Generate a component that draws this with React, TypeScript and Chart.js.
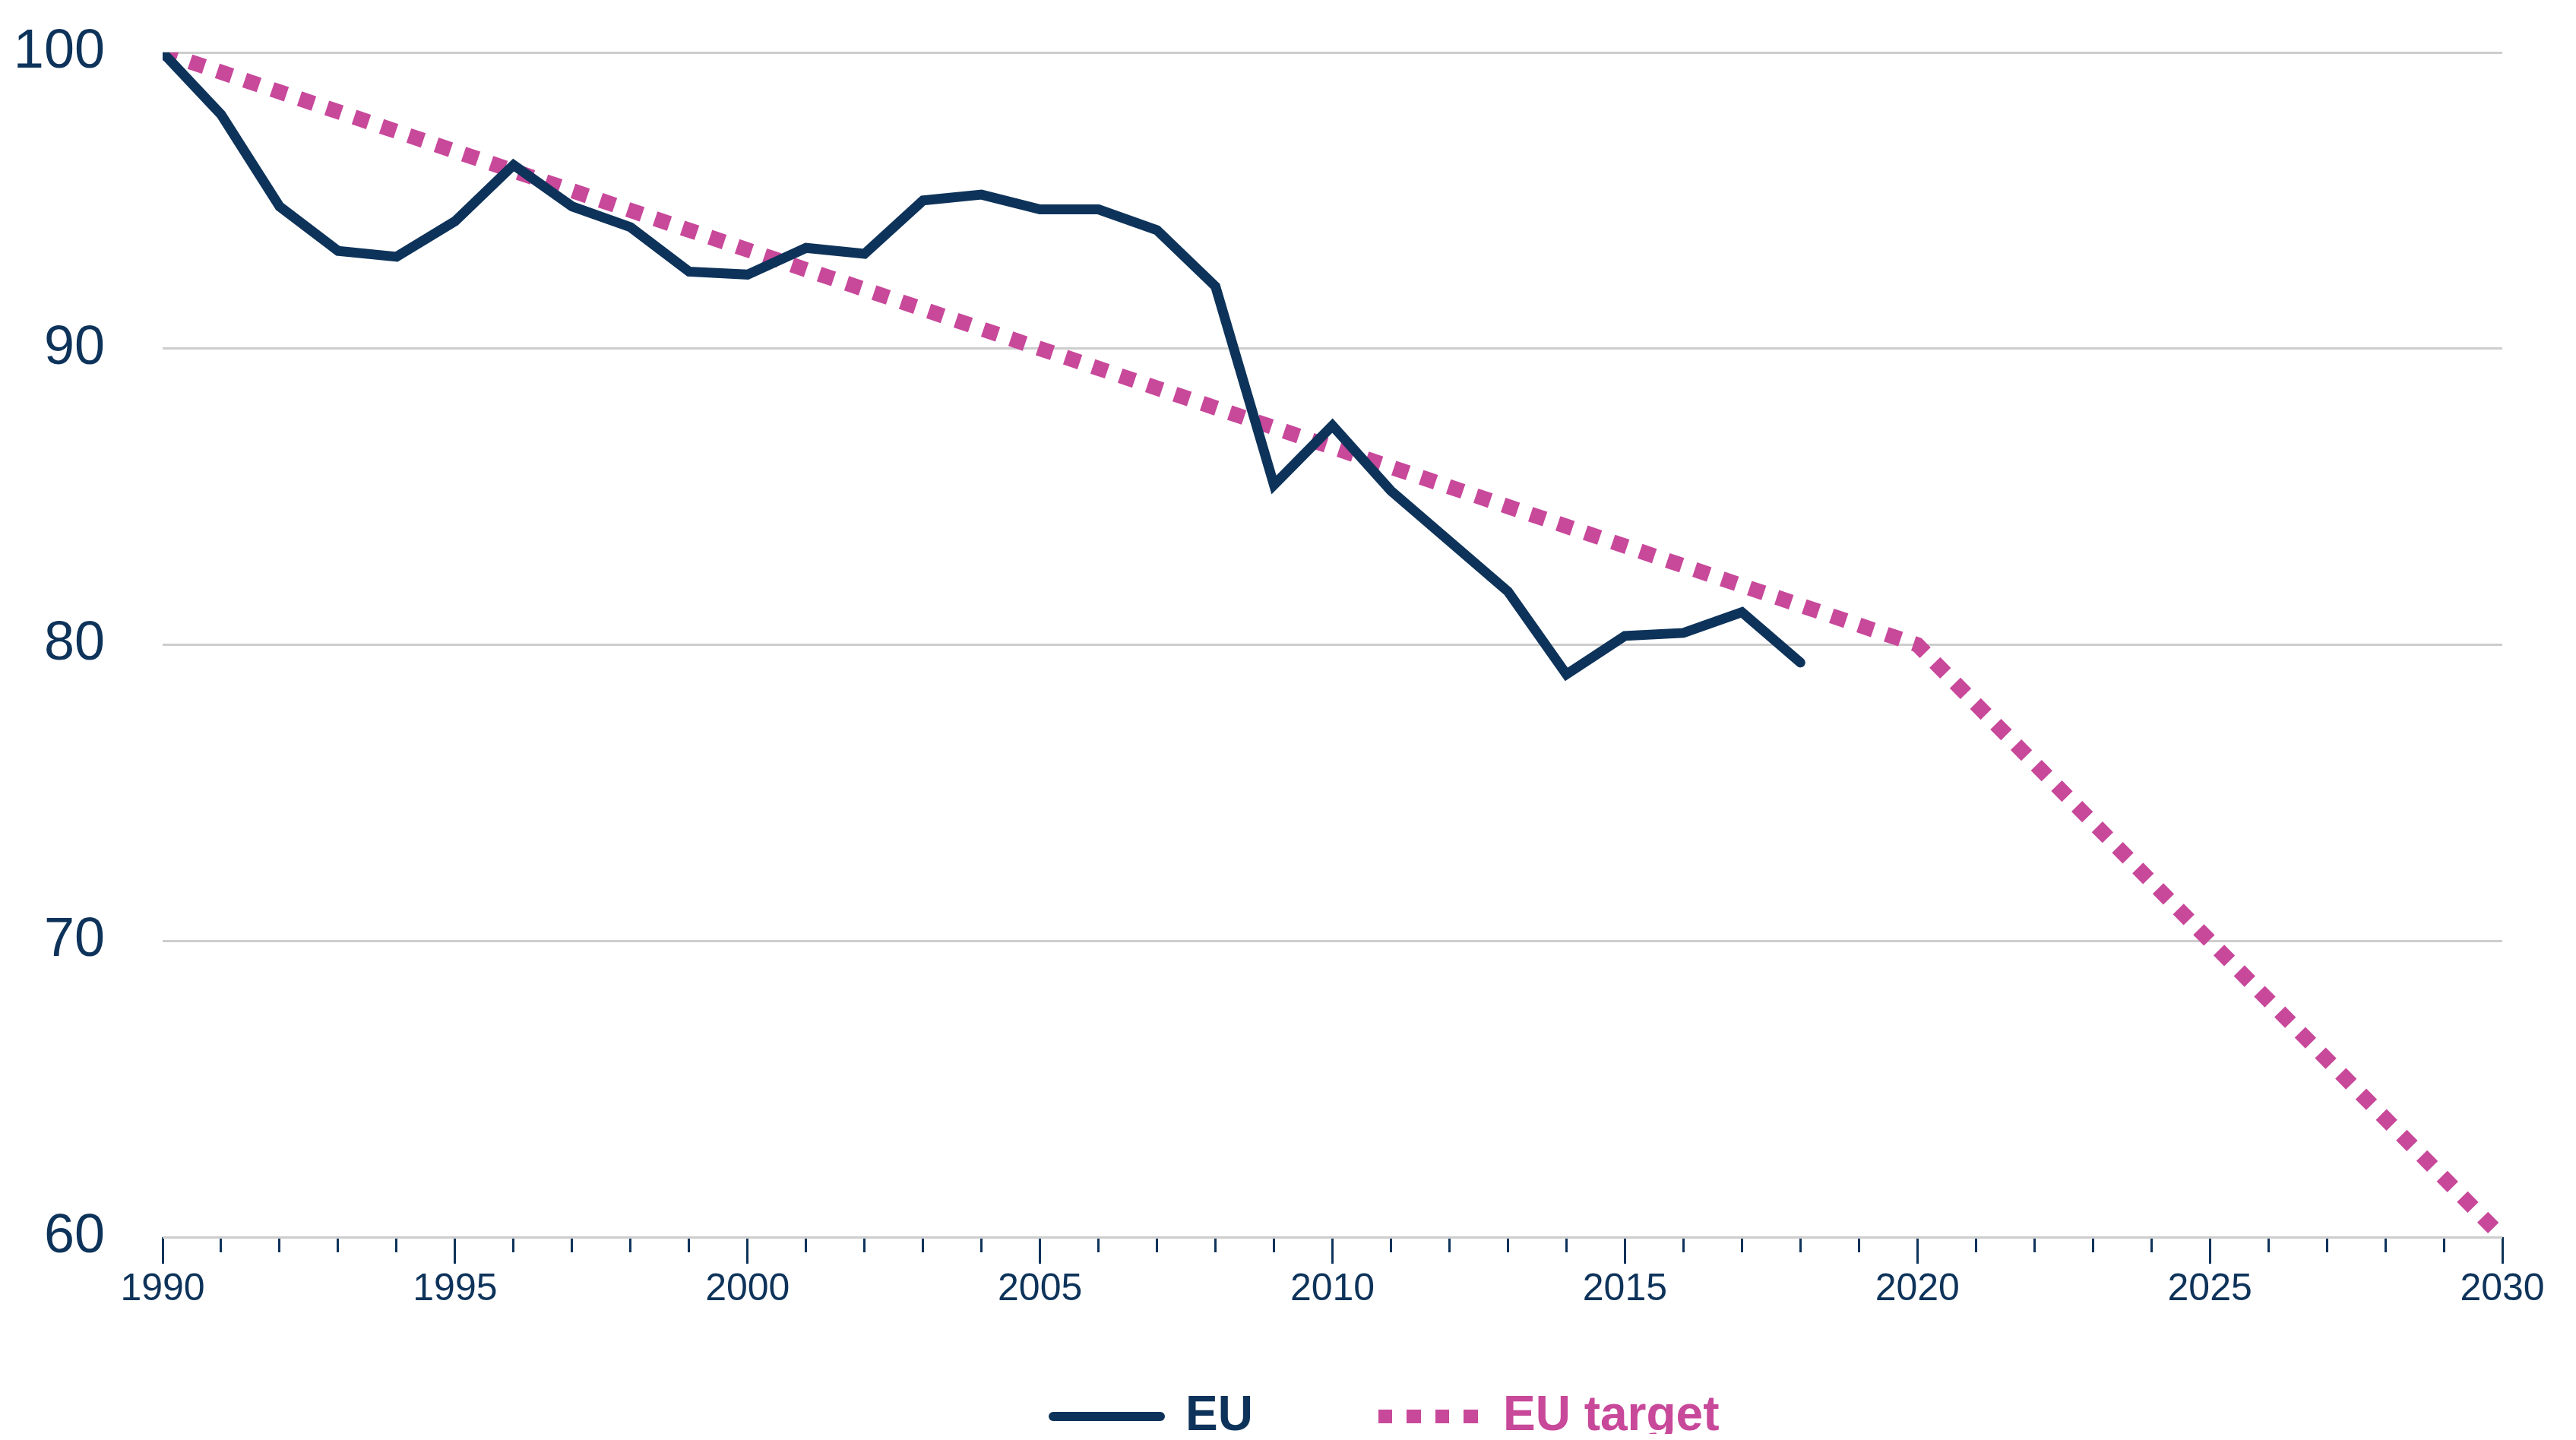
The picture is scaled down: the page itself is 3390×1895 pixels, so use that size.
import React, { useEffect, useRef } from "react";
import { Chart, registerables } from "chart.js";

Chart.register(...registerables);

// ---- data ----
const euYears = [
  1990, 1991, 1992, 1993, 1994, 1995, 1996, 1997, 1998, 1999,
  2000, 2001, 2002, 2003, 2004, 2005, 2006, 2007, 2008, 2009,
  2010, 2011, 2012, 2013, 2014, 2015, 2016, 2017, 2018,
];
const euValues = [
  100, 97.9, 94.8, 93.3, 93.1, 94.3, 96.2, 94.8, 94.1, 92.6,
  92.5, 93.4, 93.2, 95.0, 95.2, 94.7, 94.7, 94.0, 92.1, 85.4,
  87.4, 85.2, 83.5, 81.8, 79.0, 80.3, 80.4, 81.1, 79.4,
];
const targetYears = [1990, 2020, 2030];
const targetValues = [100, 80, 60];
const yTickValues = [60, 70, 80, 90, 100];
const xLabelYears = [1990, 1995, 2000, 2005, 2010, 2015, 2020, 2025, 2030];
const seriesNames = ["EU", "EU target"];

const NAVY = "#0e335a";
const MAGENTA = "#c8489a";
const GRID = "#cdcdcd";
const FONT = "'Liberation Sans', Arial, sans-serif";

export default function App() {
  const canvasRef = useRef<HTMLCanvasElement | null>(null);

  useEffect(() => {
    if (!canvasRef.current) return;
    const chart = new Chart(canvasRef.current, {
      type: "line",
      data: {
        datasets: [
          {
            label: seriesNames[0],
            data: euYears.map((x, i) => ({ x, y: euValues[i] })),
            borderColor: NAVY,
            borderWidth: 13,
            borderCapStyle: "round",
            borderJoinStyle: "miter",
            pointRadius: 0,
            tension: 0,
            fill: false,
          },
          {
            label: seriesNames[1],
            data: targetYears.map((x, i) => ({ x, y: targetValues[i] })),
            borderColor: MAGENTA,
            borderWidth: 20,
            borderDash: [20, 18],
            borderCapStyle: "butt",
            pointRadius: 0,
            tension: 0,
            fill: false,
          },
        ],
      },
      options: {
        animation: false,
        responsive: true,
        maintainAspectRatio: false,
        layout: { padding: { top: 61, right: 89, left: 0, bottom: 0 } },
        plugins: {
          legend: { display: false },
          tooltip: { enabled: false },
        },
        scales: {
          x: {
            type: "linear",
            min: 1990,
            max: 2030,
            afterFit: (s: any) => {
              s.height = 259;
            },
            border: { display: false },
            grid: {
              drawOnChartArea: false,
              drawTicks: true,
              tickLength: 35,
              tickWidth: 3,
              tickColor: NAVY,
              tickBorderDash: (ctx: any) =>
                ctx.tick && xLabelYears.includes(ctx.tick.value) ? [] : [20, 200],
            },
            ticks: {
              stepSize: 1,
              autoSkip: false,
              maxRotation: 0,
              padding: 4,
              color: NAVY,
              font: { family: FONT, size: 50 },
              callback: (v: any) => (xLabelYears.includes(Number(v)) ? String(v) : ""),
            },
          },
          y: {
            min: 60,
            max: 100,
            afterFit: (s: any) => {
              s.width = 206;
              s.paddingTop = 0;
              s.paddingBottom = 0;
            },
            afterBuildTicks: (s: any) => {
              s.ticks = yTickValues.map((v) => ({ value: v }));
            },
            border: { display: false },
            grid: {
              color: GRID,
              lineWidth: 3,
              drawTicks: false,
            },
            ticks: {
              padding: 76,
              color: NAVY,
              font: { family: FONT, size: 72 },
            },
          },
        },
      },
    });
    return () => chart.destroy();
  }, []);

  const textBase: React.CSSProperties = {
    position: "absolute",
    top: 1820,
    fontFamily: FONT,
    fontWeight: 700,
    fontSize: 64,
    lineHeight: 1,
    whiteSpace: "nowrap",
  };

  return (
    <div style={{ position: "relative", width: 3374, height: 1879, overflow: "hidden", background: "#fff" }}>
      <div style={{ position: "absolute", left: 0, top: 0, width: 3374, height: 1879 }}>
        <canvas ref={canvasRef} style={{ display: "block" }} />
      </div>
      <div
        style={{
          position: "absolute",
          left: 1372,
          top: 1850,
          width: 153,
          height: 12,
          borderRadius: 6,
          background: NAVY,
        }}
      />
      <div style={{ ...textBase, left: 1552, color: NAVY }}>{seriesNames[0]}</div>
      <div
        style={{
          position: "absolute",
          left: 1806,
          top: 1847,
          width: 132,
          height: 18,
          background: `repeating-linear-gradient(to right, ${MAGENTA} 0px, ${MAGENTA} 18.5px, transparent 18.5px, transparent 37.5px)`,
        }}
      />
      <div style={{ ...textBase, left: 1970, color: MAGENTA }}>{seriesNames[1]}</div>
    </div>
  );
}
